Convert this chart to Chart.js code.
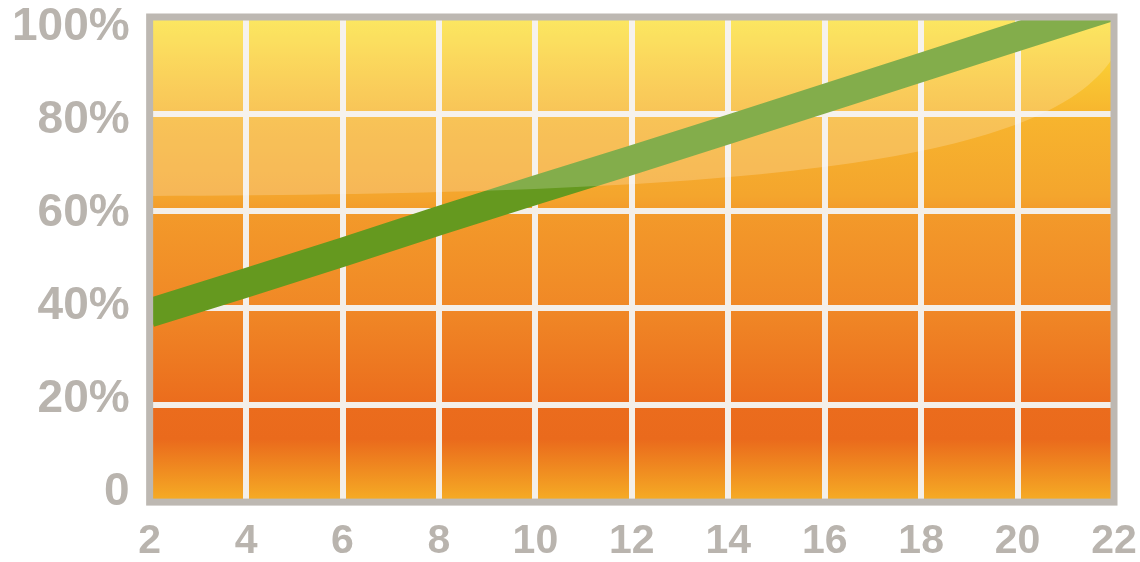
<!DOCTYPE html>
<html>
<head>
<meta charset="utf-8">
<script src="https://cdn.jsdelivr.net/npm/chart.js@4.4.1/dist/chart.umd.min.js"></script>
<style>
html, body { margin: 0; padding: 0; background: #fff; }
</style>
</head>
<body>
<canvas id="lineChart" width="1140" height="562"></canvas>
<script>
// values
const xValues = [2, 4, 6, 8, 10, 12, 14, 16, 18, 20, 22]
const percentValues = [39, 45.2, 51.5, 58, 64.3, 70.5, 76.8, 83.2, 89.6, 96, 102.3]
const xTicks = [2, 4, 6, 8, 10, 12, 14, 16, 18, 20, 22]
const yTicks = [0, 20, 40, 60, 80, 100]

const labelColor = '#b9b4ae'
const gridColor = '#f4efe9'
const frameColor = '#bdb8b2'
const clear = 'rgba(0,0,0,0)'

// orange/yellow fill behind the grid
const backgroundPlugin = {
  id: 'background',
  beforeDraw(chart) {
    const {ctx, chartArea: a} = chart
    const g = ctx.createLinearGradient(0, a.top, 0, a.bottom)
    g.addColorStop(0, '#fce23a')
    g.addColorStop(0.2, '#f7b52e')
    g.addColorStop(0.37, '#f4a52d')
    g.addColorStop(0.4, '#f39a2a')
    g.addColorStop(0.6, '#f08826')
    g.addColorStop(0.8, '#eb6c1d')
    g.addColorStop(0.87, '#ea6a1c')
    g.addColorStop(1, '#f6ae25')
    ctx.save()
    ctx.fillStyle = g
    ctx.fillRect(a.left, a.top, a.width, a.height)
    ctx.restore()
  }
}

// glossy highlight + grey frame on top
const glossPlugin = {
  id: 'gloss',
  afterDatasetsDraw(chart) {
    const {ctx, chartArea: a} = chart
    const w = a.width, h = a.height
    ctx.save()
    ctx.beginPath()
    ctx.moveTo(a.left, a.top)
    ctx.lineTo(a.left, a.top + h * 0.369)
    ctx.bezierCurveTo(a.left + w * 0.6, a.top + h * 0.365, a.left + w * 0.93, a.top + h * 0.31, a.right, a.top + h * 0.08)
    ctx.lineTo(a.right, a.top)
    ctx.closePath()
    ctx.fillStyle = 'rgba(255, 255, 255, 0.2)'
    ctx.fill()

    ctx.lineWidth = 7
    ctx.strokeStyle = frameColor
    ctx.strokeRect(a.left, a.top, a.width, a.height)
    ctx.restore()
  }
}

function lineChart(){
  const data = {
    datasets: [{
      data: xValues.map((x, i) => ({x: x, y: percentValues[i]})),
      yAxisID: 'y',
      borderColor: '#65991f',
      borderWidth: 29,
      borderCapStyle: 'butt',
      pointRadius: 0,
      tension: 0,
      fill: false,
      clip: 0
    }]
  }
  const config = {
    type: 'line',
    data: data,
    options: {
      responsive: false,
      animation: false,
      layout: { autoPadding: false, padding: { left: 12, right: 26, top: 17, bottom: 2 } },
      plugins: { legend: { display: false }, tooltip: { enabled: false } },
      scales: {
        x: {
          type: 'linear',
          min: xTicks[0],
          max: xTicks[xTicks.length - 1],
          afterBuildTicks: axis => { axis.ticks = xTicks.map(v => ({value: v})) },
          border: { display: false },
          grid: {
            tickLength: 21,
            tickColor: clear,
            lineWidth: 6,
            color: c => (c.index === 0 || c.index === xTicks.length - 1) ? clear : gridColor
          },
          ticks: {
            padding: 0,
            color: labelColor,
            font: { family: 'Liberation Sans', weight: 'bold', size: 41, lineHeight: 0.9 }
          }
        },
        // label axis: the percent labels in the picture sit a little inside the grid rows
        yLabels: {
          position: 'left',
          display: true,
          min: -2.15,
          max: 102.15,
          afterBuildTicks: axis => { axis.ticks = yTicks.map(v => ({value: v})) },
          border: { display: false },
          grid: { tickLength: 20, tickColor: clear, color: clear, lineWidth: 0 },
          ticks: {
            padding: 0,
            color: labelColor,
            font: { family: 'Liberation Sans', weight: 'bold', size: 46, lineHeight: 0.1 },
            callback: v => v === 0 ? '0' : v + '%'
          }
        },
        y: {
          position: 'left',
          min: yTicks[0],
          max: yTicks[yTicks.length - 1],
          afterBuildTicks: axis => { axis.ticks = yTicks.map(v => ({value: v})) },
          border: { display: false },
          grid: {
            drawTicks: false,
            lineWidth: 6,
            color: c => (c.index === 0 || c.index === yTicks.length - 1) ? clear : gridColor
          },
          ticks: { display: false }
        }
      }
    },
    plugins: [backgroundPlugin, glossPlugin]
  }
  new Chart(document.getElementById('lineChart').getContext('2d'), config)
}

lineChart()
</script>
</body>
</html>
